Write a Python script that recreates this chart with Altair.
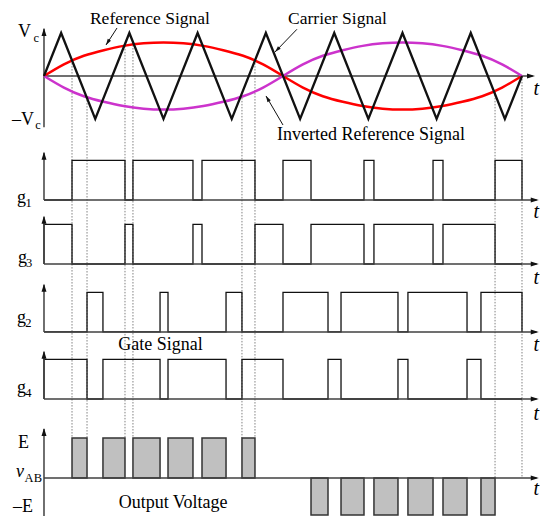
import math
import altair as alt
import pandas as pd

# ---------------- data (angle in degrees of one modulating period, levels in units of Vc) -------------
carrier_t = [0, 12.9, 38.6, 64.3, 90.0, 115.7, 141.4, 167.1, 192.9, 218.6, 244.3, 270.0, 295.7, 321.4, 347.1, 360]
carrier_v = [0, 1, -1, 1, -1, 1, -1, 1, -1, 1, -1, 1, -1, 1, -1, 0]

ref_t = [0, 15, 30, 45, 60, 75, 90, 105, 120, 135, 150, 165, 180,
         195, 210, 225, 240, 255, 270, 285, 300, 315, 330, 345, 360]
ref_v = [0, 0.27, 0.47, 0.60, 0.70, 0.76, 0.78, 0.76, 0.70, 0.60, 0.47, 0.27, 0,
         -0.27, -0.47, -0.60, -0.70, -0.76, -0.78, -0.76, -0.70, -0.60, -0.47, -0.27, 0]
inv_ref_v = [0, -0.27, -0.47, -0.60, -0.70, -0.76, -0.78, -0.76, -0.70, -0.60, -0.47, -0.27, 0,
             0.27, 0.47, 0.60, 0.70, 0.76, 0.78, 0.76, 0.70, 0.60, 0.47, 0.27, 0]

g1_on = [(21.1, 61.0), (67.0, 112.2), (119.0, 158.9), (180.0, 201.1), (241.0, 248.5), (293.0, 300.5), (339.7, 360.0)]
g3_on = [(0.0, 21.1), (61.0, 67.0), (112.2, 119.0), (158.9, 180.0), (201.1, 241.0), (248.5, 293.0), (300.5, 339.7)]
g2_on = [(32.4, 44.4), (87.4, 93.4), (137.1, 149.1), (180.0, 213.9), (223.7, 266.6), (274.1, 318.6), (329.1, 360.0)]
g4_on = [(0.0, 32.4), (44.4, 87.4), (93.4, 137.1), (149.1, 180.0), (213.9, 223.7), (266.6, 274.1), (318.6, 329.1)]

vab_pos = [(21.1, 32.4), (44.4, 61.0), (67.0, 87.4), (93.4, 112.2), (119.0, 137.1), (149.1, 158.9)]
vab_neg = [(201.1, 213.9), (223.7, 241.0), (248.5, 266.6), (274.1, 293.0), (300.5, 318.6), (329.1, 339.7)]

guide_t = [21.1, 32.4, 61.0, 67.0, 149.1, 158.9, 339.7, 360.0]
guide_from = [0.37, -0.49, 0.70, 0.72, -0.51, 0.37, -0.37, 0.0]
guide_to_E = [True, True, True, True, True, True, False, False]

# ---------------- layout ----------------
X0, X1 = -27.11, 373.56
Y0, Y1 = -10.233, 1.581
W, H = 532, 508
KX = W / (X1 - X0)
KY = H / (Y1 - Y0)

BASE = {"g1": -2.884, "g3": -4.372, "g2": -5.953, "g4": -7.512}
GATE_H = 0.92
VAB = -9.349
E_H = 0.93
E_HN = 0.86
FONT = "Liberation Serif"

xs = alt.Scale(domain=[X0, X1], nice=False, zero=False)
ys = alt.Scale(domain=[Y0, Y1], nice=False, zero=False)


def ex(f="x"):
    return alt.X(f"{f}:Q", scale=xs, axis=None)


def ey(f="y"):
    return alt.Y(f"{f}:Q", scale=ys, axis=None)


layers = []

# dotted guide lines
gdf = pd.DataFrame({
    "x": guide_t,
    "y": guide_from,
    "y2": [VAB + E_H if e else VAB for e in guide_to_E],
})
layers.append(alt.Chart(gdf).mark_rule(color="#808080", strokeWidth=1, strokeDash=[1.5, 1.5]).encode(
    x=ex(), y=ey(), y2="y2:Q"))

# output voltage pulses
rrows = [{"x": a, "x2": b, "y": VAB, "y2": VAB + E_H} for a, b in vab_pos]
rrows += [{"x": a, "x2": b, "y": VAB, "y2": VAB - E_HN} for a, b in vab_neg]
layers.append(alt.Chart(pd.DataFrame(rrows)).mark_rect(fill="#c0c0c0", stroke="#333333", strokeWidth=1.5).encode(
    x=ex(), x2="x2:Q", y=ey(), y2="y2:Q"))

# gate signals
rows = []
for name, on in [("g1", g1_on), ("g3", g3_on), ("g2", g2_on), ("g4", g4_on)]:
    b = BASE[name]
    pts = [(0.0, b)]
    for a, c in on:
        pts += [(a, b), (a, b + GATE_H), (c, b + GATE_H), (c, b)]
    pts.append((360.0, b))
    for i, (px, py) in enumerate(pts):
        rows.append({"panel": name, "i": i, "x": px, "y": py})
layers.append(alt.Chart(pd.DataFrame(rows)).mark_line(color="#111111", strokeWidth=1.3).encode(
    x=ex(), y=ey(), detail="panel:N", order="i:Q"))

# axes
arows = [{"x": 0, "y": 0, "x2": 368, "y2": 0}, {"x": 0, "y": -1.19, "x2": 0, "y2": 1.10}]
heads = [{"x": 369.8, "y": 0, "ang": 90}, {"x": 0, "y": 1.116, "ang": 0}]
for b in BASE.values():
    arows += [{"x": 0, "y": b, "x2": 371, "y2": b}, {"x": 0, "y": b, "x2": 0, "y2": b + 1.10}]
    heads += [{"x": 372.6, "y": b, "ang": 90}, {"x": 0, "y": b + 1.12, "ang": 0}]
arows += [{"x": 0, "y": VAB, "x2": 371, "y2": VAB}, {"x": 0, "y": Y0, "x2": 0, "y2": VAB + 1.14}]
heads += [{"x": 372.6, "y": VAB, "ang": 90}, {"x": 0, "y": VAB + 1.16, "ang": 0}]
layers.append(alt.Chart(pd.DataFrame(arows)).mark_rule(color="#404040", strokeWidth=1.5).encode(
    x=ex(), y=ey(), x2="x2:Q", y2="y2:Q"))

# reference signals
layers.append(alt.Chart(pd.DataFrame({"x": ref_t, "y": ref_v})).mark_line(
    color="#ff0000", strokeWidth=2.5, interpolate="natural").encode(x=ex(), y=ey()))
layers.append(alt.Chart(pd.DataFrame({"x": ref_t, "y": inv_ref_v})).mark_line(
    color="#cc33cc", strokeWidth=2.5, interpolate="natural").encode(x=ex(), y=ey()))

# carrier
cdf = pd.DataFrame({"x": carrier_t, "y": carrier_v, "i": range(len(carrier_t))})
layers.append(alt.Chart(cdf).mark_line(color="#111111", strokeWidth=2.3).encode(
    x=ex(), y=ey(), order="i:Q"))

# annotation arrows
ann = [
    {"x": 55.0, "y": 1.116, "x2": 46.7, "y2": 0.721},
    {"x": 190.5, "y": 1.086, "x2": 174.0, "y2": 0.558},
    {"x": 180.0, "y": -1.14, "x2": 167.2, "y2": -0.465},
]
layers.append(alt.Chart(pd.DataFrame(ann)).mark_rule(color="#111111", strokeWidth=1).encode(
    x=ex(), y=ey(), x2="x2:Q", y2="y2:Q"))
ahead = []
for a in ann:
    dx = (a["x2"] - a["x"]) * KX
    dy = -(a["y2"] - a["y"]) * KY
    ahead.append({"x": a["x2"], "y": a["y2"], "ang": math.degrees(math.atan2(dx, -dy)) % 360})

ARROW = "M0,0L0.5,1.6L-0.5,1.6Z"
layers.append(alt.Chart(pd.DataFrame(heads)).mark_point(
    shape=ARROW, filled=True, size=100, color="#111111", opacity=1, strokeWidth=0).encode(
    x=ex(), y=ey(), angle=alt.Angle("ang:Q", scale=None)))
layers.append(alt.Chart(pd.DataFrame(ahead)).mark_point(
    shape=ARROW, filled=True, size=60, color="#111111", opacity=1, strokeWidth=0).encode(
    x=ex(), y=ey(), angle=alt.Angle("ang:Q", scale=None)))

# texts
def txt(df, size, align="left", style="normal"):
    return alt.Chart(pd.DataFrame(df)).mark_text(
        font=FONT, fontSize=size, align=align, baseline="alphabetic", fontStyle=style, color="#000000"
    ).encode(x=ex(), y=ey(), text="t:N")

top_titles = [
    {"x": 79.8, "y": 1.216, "t": "Reference Signal"},
    {"x": 221.0, "y": 1.216, "t": "Carrier Signal"},
]
layers.append(txt(top_titles, 17.5, "center"))

titles = [
    {"x": 246.3, "y": -1.488, "t": "Inverted Reference Signal"},
    {"x": 87.7, "y": -6.372, "t": "Gate Signal"},
    {"x": 97.2, "y": -10.047, "t": "Output Voltage"},
]
layers.append(txt(titles, 18, "center"))

big = [
    {"x": -19.6, "y": 0.907, "t": "V"},
    {"x": -24.1, "y": -1.14, "t": "\u2013V"},
    {"x": -20.3, "y": -2.95, "t": "g"},
    {"x": -19.6, "y": -4.35, "t": "g"},
    {"x": -20.3, "y": -5.74, "t": "g"},
    {"x": -20.3, "y": -7.37, "t": "g"},
    {"x": -19.6, "y": -8.651, "t": "E"},
    {"x": -23.3, "y": -10.14, "t": "\u2013E"},
]
layers.append(txt(big, 18))

subs = [
    {"x": -7.9, "y": 0.79, "t": "c"},
    {"x": -6.6, "y": -1.233, "t": "c"},
    {"x": -13.9, "y": -3.05, "t": "1"},
    {"x": -13.6, "y": -4.44, "t": "3"},
    {"x": -14.2, "y": -5.83, "t": "2"},
    {"x": -14.2, "y": -7.47, "t": "4"},
    {"x": -14.6, "y": -9.442, "t": "AB"},
]
layers.append(txt(subs, 12.5))

ital = [{"x": -21.1, "y": -9.326, "t": "v"}]
layers.append(txt(ital, 18, "left", "italic"))

tl = [{"x": 370.8, "y": v, "t": "t"} for v in [-0.442, -3.302, -4.84, -6.395, -8.0, -9.744]]
layers.append(txt(tl, 20, "center", "italic"))

chart = alt.layer(*layers).properties(
    width=W, height=H, padding=0, autosize=alt.AutoSizeParams(type="none"),
    background="white",
).configure_view(stroke=None)

chart.save("out.html", embed_options={"renderer": "svg", "actions": False})
